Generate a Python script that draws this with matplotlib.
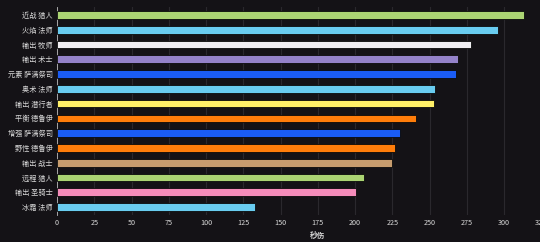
import matplotlib.pyplot as plt
import numpy as np

plt.rcParams['font.family'] = ['Noto Sans CJK SC', 'DejaVu Sans']

specs = ['近战 猎人', '火焰 法师', '输出 牧师', '输出 术士', '元素 萨满祭司', '奥术 法师',
         '输出 潜行者', '平衡 德鲁伊', '增强 萨满祭司', '野性 德鲁伊', '输出 战士',
         '远程 猎人', '输出 圣骑士', '冰霜 法师']
dps = [313.2, 296.2, 277.6, 269.1, 267.8, 253.5, 252.8, 240.7, 230.4, 226.8, 224.8,
       206.2, 200.4, 133.1]
colors = ['#abd473', '#69ccf0', '#f0eef2', '#9482c9', '#1a5cf5', '#69ccf0', '#fff068',
          '#ff7d0a', '#1a5cf5', '#ff7d0a', '#c79c6e', '#abd473', '#f58cba', '#69ccf0']

bg = '#141216'
txt = '#d8d8d8'

fig = plt.figure(figsize=(5.4, 2.42), dpi=100, facecolor=bg)
# axes runs past the right edge of the figure, like the cropped original
ax = fig.add_axes([57 / 540, 27 / 242, 521.5 / 540, 208 / 242], facecolor=bg)

y = np.arange(len(specs))
ax.barh(y, dps, height=0.52, color=colors, edgecolor='#0a0a0a', linewidth=0.6, zorder=3)

ax.set_xlim(0, 350)
ax.set_ylim(len(specs) - 0.46, -0.54)
ax.set_xticks(np.arange(0, 351, 25))
ax.set_yticks(y)
ax.set_yticklabels(specs)
ax.tick_params(axis='both', colors=txt, labelsize=5.2, length=0, pad=3)
ax.grid(axis='x', color='#2a282d', linewidth=0.8, zorder=0)

for s in ['top', 'right', 'bottom']:
    ax.spines[s].set_visible(False)
ax.spines['left'].set_color('#bbbbbb')
ax.spines['left'].set_linewidth(0.6)

ax.set_xlabel('秒伤', color=txt, fontsize=5.5, fontweight='bold', labelpad=3)

fig.savefig('out.png', dpi=100, facecolor=bg)
